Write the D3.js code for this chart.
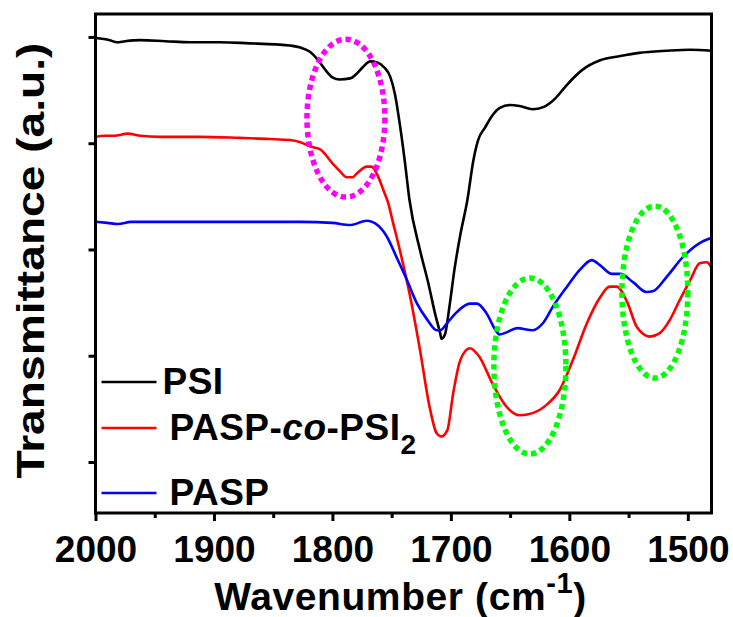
<!DOCTYPE html>
<html>
<head>
<meta charset="utf-8">
<script src="https://d3js.org/d3.v7.min.js"></script>
<style>
  body { margin: 0; background: #fff; }
  text { font-family: "Liberation Sans", Arial, sans-serif; font-weight: bold; fill: #000; }
</style>
</head>
<body>
<script>

// spectra, [wavenumber, transmittance (arbitrary, offset)]
var psi = [[2000,399],[1988,397],[1982,395],[1975,396],[1962,397],[1941,396],[1920,395],[1895,395],[1870,394],[1848,393],[1836,392],[1827,390],[1819,386],[1812,378],[1806,369],[1800,362],[1794,360],[1785,361],[1779,366],[1774,372],[1768,377],[1762,376],[1756,371],[1751,362],[1747,345],[1743,317],[1739,284],[1735,247],[1726,199],[1719,168],[1713,138],[1709,121],[1708,116],[1705,120],[1701,148],[1697,181],[1692,214],[1686,247],[1681,284],[1677,303],[1671,315],[1665,326],[1659,333],[1650,336],[1642,335],[1631,332],[1622,334],[1612,342],[1602,355],[1589,369],[1574,378],[1557,382],[1541,385],[1518,387],[1498,388],[1480,387]];

var paspCoPsi = [[2000,306],[1992,307],[1984,307],[1973,309],[1962,307],[1946,306],[1912,306],[1878,305],[1853,304],[1836,303],[1827,301],[1819,297],[1810,294],[1800,281],[1794,274],[1788,268],[1783,268],[1779,272],[1771,278],[1767,278],[1762,270],[1757,256],[1753,244],[1749,226],[1743,199],[1735,159],[1726,105],[1718,52],[1712,27],[1708,24],[1703,30],[1698,65],[1692,96],[1684,107],[1676,99],[1665,74],[1653,52],[1642,44],[1631,46],[1619,54],[1608,68],[1597,96],[1585,131],[1574,155],[1566,165],[1560,165],[1551,150],[1543,127],[1532,118],[1524,121],[1515,134],[1507,152],[1498,171],[1490,187],[1484,188],[1480,183]];

var pasp = [[2000,226],[1990,225],[1981,224],[1970,226],[1962,226],[1940,226],[1912,226],[1870,226],[1827,226],[1800,225],[1785,223],[1771,227],[1762,223],[1754,212],[1746,193],[1737,171],[1729,150],[1720,134],[1712,124],[1709,124],[1703,131],[1695,141],[1684,149],[1678,149],[1670,140],[1661,122],[1659,120],[1653,122],[1644,126],[1631,124],[1622,131],[1614,146],[1602,165],[1591,181],[1581,190],[1574,185],[1564,177],[1557,177],[1546,169],[1535,160],[1529,161],[1518,174],[1504,193],[1490,206],[1480,211]];

var xMajor = [2000, 1900, 1800, 1700, 1600, 1500];
var xMinor = [1950, 1850, 1750, 1650, 1550];
var yTicks = [0, 100, 200, 300, 400];

// dotted ellipses: [centre wn, centre value, half width (wn), half height (value), colour]
var marks = [[1788.6, 323.6, 32.9, 74.3, "#ff00ff"],
             [1633.3, 90.3, 30.4, 82.8, "#00ff00"],
             [1527.8, 159.9, 27.8, 80.9, "#00ff00"]];

var margin = {top: 14, right: 21.5, bottom: 104, left: 95.5},
    width = 733 - margin.left - margin.right,
    height = 617 - margin.top - margin.bottom;

var svg = d3.select("body").append("svg")
    .attr("width", 733)
    .attr("height", 617)
  .append("g")
    .attr("transform", "translate(" + margin.left + "," + margin.top + ")");

var x = d3.scaleLinear().domain([2000, 1480]).range([0, width]);
var y = d3.scaleLinear().domain([-48, 421.6]).range([height, 0]);

var line = d3.line()
    .x(function(d) { return x(d[0]); })
    .y(function(d) { return y(d[1]); })
    .curve(d3.curveMonotoneX);

// spectra
svg.append("path").datum(paspCoPsi).attr("d", line)
    .attr("fill", "none").attr("stroke", "#ff0000").attr("stroke-width", 2.6);
svg.append("path").datum(psi).attr("d", line)
    .attr("fill", "none").attr("stroke", "#000").attr("stroke-width", 2.6);
svg.append("path").datum(pasp).attr("d", line)
    .attr("fill", "none").attr("stroke", "#0000ff").attr("stroke-width", 2.6);

// highlight ellipses
svg.selectAll(".mark")
    .data(marks)
  .enter().append("ellipse")
    .attr("class", "mark")
    .attr("cx", function(d) { return x(d[0]); })
    .attr("cy", function(d) { return y(d[1]); })
    .attr("rx", function(d) { return Math.abs(x(d[0] + d[2]) - x(d[0])); })
    .attr("ry", function(d) { return Math.abs(y(d[1] + d[3]) - y(d[1])); })
    .attr("fill", "none")
    .attr("stroke", function(d) { return d[4]; })
    .attr("stroke-width", 5.5)
    .attr("stroke-dasharray", "5.5,4");

// axes
var xAxis = svg.append("g")
    .attr("transform", "translate(0," + height + ")")
    .call(d3.axisBottom(x).tickValues(xMajor).tickSize(8).tickSizeOuter(0).tickFormat(d3.format("d")));
xAxis.select(".domain").remove();
xAxis.selectAll("line").attr("stroke-width", 3);
xAxis.selectAll("text")
    .attr("y", 49).attr("dy", 0)
    .style("font-size", "37px");

var xMin = svg.append("g")
    .attr("transform", "translate(0," + height + ")")
    .call(d3.axisBottom(x).tickValues(xMinor).tickSize(5).tickFormat(""));
xMin.select(".domain").remove();
xMin.selectAll("line").attr("stroke-width", 3);

var yAxis = svg.append("g")
    .call(d3.axisLeft(y).tickValues(yTicks).tickSize(7).tickFormat(""));
yAxis.select(".domain").remove();
yAxis.selectAll("line").attr("stroke-width", 3);

// frame
svg.append("rect")
    .attr("width", width).attr("height", height)
    .attr("fill", "none").attr("stroke", "#000").attr("stroke-width", 3);

// axis titles
var xt = svg.append("text")
    .attr("x", width / 2 - 3)
    .attr("y", 596)
    .attr("text-anchor", "middle")
    .style("font-size", "39px")
    .style("letter-spacing", "0.6px");
xt.append("tspan").text("Wavenumber (cm");
xt.append("tspan").attr("dy", -17).style("font-size", "29px").text("-1");
xt.append("tspan").attr("dy", 17).text(")");

svg.append("text")
    .attr("transform", "translate(-52," + (height / 2 - 3) + ") rotate(-90)")
    .attr("text-anchor", "middle")
    .attr("textLength", 436)
    .attr("lengthAdjust", "spacingAndGlyphs")
    .style("font-size", "38px")
    .text("Transmittance (a.u.)");

// legend
var legend = [["PSI", "#000", 368], ["PASP-co-PSI2", "#ff0000", 414], ["PASP", "#0000ff", 479]];
legend.forEach(function(l) {
  var g = svg.append("g").attr("transform", "translate(0," + l[2] + ")");
  g.append("line").attr("x1", 6).attr("x2", 61).attr("y1", 0).attr("y2", 0)
      .attr("stroke", l[1]).attr("stroke-width", 2.5);
  var t = g.append("text").attr("x", l[0] == "PSI" ? 67 : 74).attr("y", 12)
      .style("font-size", "37px").style("letter-spacing", "0.5px");
  if (l[0] == "PASP-co-PSI2") {
    t.append("tspan").text("PASP-");
    t.append("tspan").style("font-style", "italic").text("co");
    t.append("tspan").text("-PSI");
    t.append("tspan").attr("dy", 14).style("font-size", "28px").text("2");
  } else {
    t.text(l[0]);
  }
});

</script>
</body>
</html>
